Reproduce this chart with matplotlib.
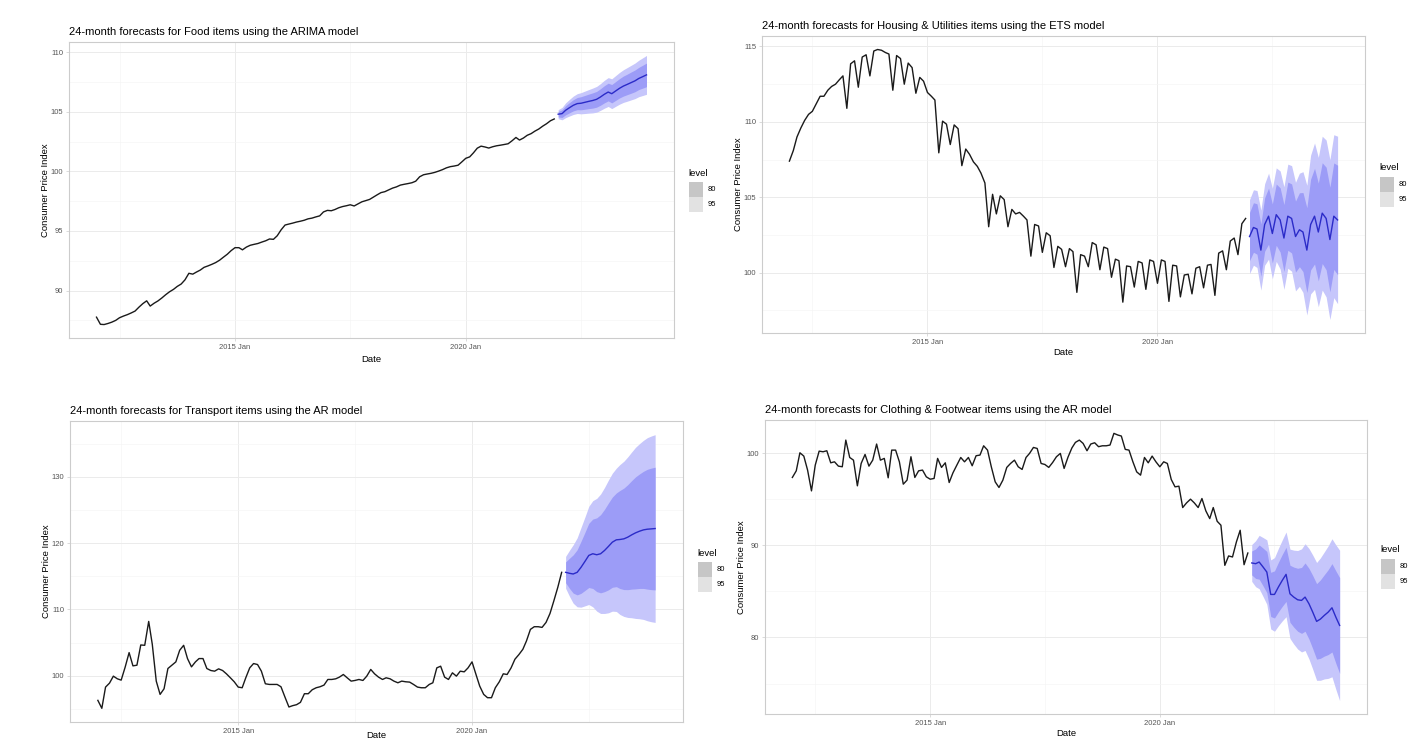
import pandas as pd
import matplotlib
matplotlib.use('Agg')
import matplotlib.pyplot as plt
import matplotlib.dates as mdates
from matplotlib.patches import Rectangle

plt.rcParams['font.family'] = ['Liberation Sans', 'DejaVu Sans']

W, H = 1408, 738

hist_dates = pd.date_range('2012-01-01', periods=120, freq='MS')
fc_dates = pd.date_range('2022-01-01', periods=24, freq='MS')

# --- Food (ARIMA) ---
food_hist = [
    87.77, 87.17, 87.15, 87.24, 87.35, 87.5, 87.72, 87.86, 87.98, 88.12, 88.28, 88.6,
    88.9, 89.14, 88.7, 88.94, 89.13, 89.38, 89.65, 89.9, 90.1, 90.35, 90.55, 90.9,
    91.45, 91.38, 91.55, 91.72, 91.95, 92.07, 92.2, 92.35, 92.55, 92.8, 93.05, 93.35,
    93.6, 93.6, 93.42, 93.65, 93.8, 93.88, 93.95, 94.07, 94.18, 94.33, 94.3, 94.6,
    95.1, 95.5, 95.58, 95.66, 95.75, 95.82, 95.9, 96.02, 96.08, 96.18, 96.27, 96.6,
    96.73, 96.7, 96.8, 96.95, 97.05, 97.12, 97.2, 97.1, 97.28, 97.45, 97.55, 97.65,
    97.85, 98.05, 98.22, 98.3, 98.45, 98.6, 98.7, 98.85, 98.92, 98.98, 99.05, 99.18,
    99.55, 99.72, 99.78, 99.84, 99.92, 100.03, 100.15, 100.3, 100.4, 100.45, 100.52, 100.8,
    101.1, 101.22, 101.55, 101.95, 102.12, 102.05, 101.96, 102.07, 102.15, 102.2, 102.26, 102.32,
    102.57, 102.85, 102.63, 102.8, 103.03, 103.17, 103.38, 103.56, 103.8, 104.0, 104.25, 104.4,
]
food_fc = [
    104.8, 104.85, 105.13, 105.35, 105.55, 105.69, 105.72, 105.8, 105.88, 105.95, 106.05, 106.24,
    106.47, 106.66, 106.52, 106.75, 106.97, 107.16, 107.3, 107.45, 107.6, 107.8, 107.95, 108.1,
]
food_hw80 = [0.23, 0.32, 0.38, 0.43, 0.47, 0.51, 0.55, 0.58, 0.61, 0.64, 0.66, 0.69,
             0.72, 0.74, 0.77, 0.79, 0.81, 0.84, 0.86, 0.89, 0.91, 0.93, 0.96, 0.99]
food_hw95 = [0.38, 0.52, 0.62, 0.7, 0.77, 0.83, 0.89, 0.94, 0.99, 1.04, 1.08, 1.12,
             1.17, 1.21, 1.25, 1.29, 1.33, 1.37, 1.41, 1.45, 1.49, 1.53, 1.58, 1.63]

# --- Housing & Utilities (ETS) ---
housing_hist = [
    107.4, 108.1, 109.0, 109.6, 110.1, 110.5, 110.7, 111.2, 111.7, 111.7, 112.1, 112.35,
    112.5, 112.8, 113.05, 110.9, 113.85, 114.05, 112.3, 114.3, 114.45, 113.05, 114.7, 114.8,
    114.75, 114.6, 114.5, 112.1, 114.4, 114.2, 112.5, 113.9, 113.6, 111.9, 112.95, 112.7,
    111.95, 111.7, 111.45, 107.95, 110.05, 109.85, 108.5, 109.8, 109.55, 107.1, 108.2, 107.85,
    107.35, 107.05, 106.6, 105.95, 103.05, 105.2, 103.9, 105.1, 104.85, 103.05, 104.2, 103.9,
    104.0, 103.75, 103.5, 101.1, 103.2, 103.1, 101.35, 102.65, 102.45, 100.35, 101.75, 101.55,
    100.4, 101.6, 101.4, 98.7, 101.2, 101.1, 100.4, 102.0, 101.85, 100.2, 101.7, 101.6,
    99.7, 100.9, 100.8, 98.05, 100.45, 100.4, 99.05, 100.75, 100.65, 98.9, 100.85, 100.75,
    99.3, 100.85, 100.75, 98.1, 100.5, 100.45, 98.4, 99.85, 99.9, 98.6, 100.3, 100.4,
    99.0, 100.5, 100.55, 98.5, 101.3, 101.45, 100.2, 102.1, 102.3, 101.2, 103.25, 103.6,
]
housing_fc = [
    102.4, 103.0, 102.9, 101.5, 103.2, 103.75, 102.6, 103.85, 103.5, 102.3, 103.75, 103.6,
    102.4, 102.85, 102.7, 101.5, 103.2, 103.75, 102.7, 103.95, 103.6, 102.2, 103.75, 103.5,
]
housing_hw80 = [1.6, 1.64, 1.67, 1.73, 1.77, 1.86, 1.96, 2.03, 2.13, 2.22, 2.26, 2.29,
                2.35, 2.45, 2.62, 2.81, 3.01, 3.17, 3.24, 3.34, 3.4, 3.47, 3.53, 3.63]
housing_hw95 = [2.45, 2.5, 2.55, 2.65, 2.7, 2.85, 3.0, 3.1, 3.25, 3.4, 3.45, 3.5,
                3.6, 3.75, 4.0, 4.3, 4.6, 4.85, 4.95, 5.1, 5.2, 5.3, 5.4, 5.55]

# --- Transport (AR) ---
transport_hist = [
    96.3, 95.1, 98.3, 98.9, 99.95, 99.55, 99.35, 101.3, 103.5, 101.5, 101.6, 104.65,
    104.6, 108.2, 104.75, 99.2, 97.2, 98.05, 101.1, 101.6, 102.1, 103.85, 104.6, 102.6,
    101.35, 102.1, 102.6, 102.6, 101.1, 100.8, 100.7, 101.05, 100.8, 100.3, 99.7, 99.1,
    98.3, 98.2, 99.7, 101.2, 101.85, 101.7, 100.7, 98.8, 98.7, 98.7, 98.7, 98.35,
    96.8, 95.3, 95.5, 95.65, 96.0, 97.3, 97.3, 97.9, 98.2, 98.35, 98.6, 99.45,
    99.45, 99.55, 99.8, 100.2, 99.7, 99.2, 99.3, 99.45, 99.3, 99.95, 100.96, 100.3,
    99.8, 99.45, 99.7, 99.55, 99.2, 98.95, 99.2, 99.1, 99.05, 98.7, 98.3, 98.2,
    98.2, 98.7, 98.95, 101.2, 101.45, 99.8, 99.45, 100.45, 99.95, 100.7, 100.6, 101.2,
    102.1, 100.2, 98.45, 97.2, 96.7, 96.7, 98.2, 99.1, 100.3, 100.2, 101.2, 102.5,
    103.2, 104.0, 105.25, 107.0, 107.4, 107.4, 107.3, 108.05, 109.4, 111.3, 113.35, 115.6,
]
transport_fc = [
    115.6, 115.45, 115.35, 115.6, 116.35, 117.25, 118.15, 118.4, 118.25, 118.4, 118.9, 119.5,
    120.15, 120.5, 120.55, 120.65, 120.9, 121.25, 121.55, 121.8, 122.0, 122.1, 122.15, 122.2,
]
transport_hw80 = [1.57, 2.29, 2.88, 3.4, 3.92, 4.38, 4.84, 5.23, 5.56, 5.89, 6.21, 6.54,
                  6.8, 7.06, 7.39, 7.65, 7.91, 8.18, 8.44, 8.63, 8.83, 9.03, 9.16, 9.25]
transport_hw95 = [2.4, 3.5, 4.4, 5.2, 6.0, 6.7, 7.4, 8.0, 8.5, 9.0, 9.5, 10.0,
                  10.4, 10.8, 11.3, 11.7, 12.1, 12.5, 12.9, 13.2, 13.5, 13.8, 14.0, 14.15]

# --- Clothing & Footwear (AR) ---
clothing_hist = [
    97.39, 98.11, 100.07, 99.71, 98.19, 95.93, 98.73, 100.25, 100.18, 100.29, 98.98, 99.09,
    98.62, 98.55, 101.45, 99.56, 99.27, 96.48, 98.91, 99.89, 98.62, 99.27, 101.02, 99.27,
    99.46, 97.35, 100.36, 100.36, 99.09, 96.66, 97.1, 99.64, 97.39, 98.11, 98.19, 97.46,
    97.2, 97.28, 99.46, 98.48, 98.98, 96.84, 97.89, 98.73, 99.56, 99.09, 99.56, 98.66,
    99.75, 99.82, 100.83, 100.36, 98.55, 96.91, 96.3, 97.1, 98.48, 98.91, 99.27, 98.55,
    98.26, 99.56, 100.0, 100.65, 100.54, 98.91, 98.8, 98.48, 99.02, 99.64, 100.0, 98.37,
    99.6, 100.6, 101.2, 101.45, 101.09, 100.29, 101.02, 101.16, 100.73, 100.83, 100.83, 100.91,
    102.18, 102.0, 101.89, 100.44, 100.36, 99.09, 98.0, 97.64, 99.56, 98.98, 99.71, 99.09,
    98.55, 99.09, 98.91, 97.17, 96.37, 96.44, 94.12, 94.63, 95.03, 94.63, 94.12, 95.1,
    93.76, 92.92, 94.12, 92.63, 92.2, 87.84, 88.86, 88.75, 90.38, 91.65, 87.91, 89.18,
]
clothing_fc = [
    88.1, 88.02, 88.2, 87.66, 87.11, 84.68, 84.68, 85.48, 86.21, 86.86, 84.75, 84.39,
    84.1, 84.03, 84.39, 83.67, 82.76, 81.75, 82.0, 82.4, 82.76, 83.23, 82.21, 81.31,
]
clothing_hw80 = [1.3, 1.6, 1.86, 2.05, 2.24, 2.4, 2.56, 2.69, 2.82, 2.94, 3.1, 3.26,
                 3.42, 3.58, 3.71, 3.84, 3.97, 4.1, 4.26, 4.42, 4.61, 4.8, 5.02, 5.2]
clothing_hw95 = [2.0, 2.5, 2.9, 3.2, 3.5, 3.75, 4.0, 4.2, 4.4, 4.6, 4.85, 5.1,
                 5.35, 5.6, 5.8, 6.0, 6.2, 6.4, 6.65, 6.9, 7.2, 7.5, 7.85, 8.17]

panels = [
    # title, hist, fc, hw80, hw95, major y, minor y, (left, top, right, bottom) px,
    # legend px, x-label pad
    ('24-month forecasts for Food items using the ARIMA model',
     food_hist, food_fc, food_hw80, food_hw95,
     [90, 95, 100, 105, 110], [87.5, 92.5, 97.5, 102.5, 107.5],
     (69, 42, 674, 338), (688, 173), 3),
    ('24-month forecasts for Housing & Utilities items using the ETS model',
     housing_hist, housing_fc, housing_hw80, housing_hw95,
     [100, 105, 110, 115], [97.5, 102.5, 107.5, 112.5],
     (762, 36, 1365, 333), (1379, 168), 2),
    ('24-month forecasts for Transport items using the AR model',
     transport_hist, transport_fc, transport_hw80, transport_hw95,
     [100, 110, 120, 130], [95, 105, 115, 125, 135],
     (70, 421, 683, 722), (697, 553), -2.8),
    ('24-month forecasts for Clothing & Footwear items using the AR model',
     clothing_hist, clothing_fc, clothing_hw80, clothing_hw95,
     [80, 90, 100], [75, 85, 95],
     (765, 420, 1367, 714), (1380, 550), 1.5),
]

BORDER = '#cccccc'
GRID = '#ebebeb'
GRID_MINOR = '#f5f5f5'
TICK_TEXT = '#555555'
BAND95 = '#c6c6fb'
BAND80 = '#9c9cf7'
FC_LINE = '#2b2bc8'

fig = plt.figure(figsize=(W / 100, H / 100), dpi=100)

x_lo = hist_dates[0] - (fc_dates[-1] - hist_dates[0]) * 0.05
x_hi = fc_dates[-1] + (fc_dates[-1] - hist_dates[0]) * 0.05

for title, hist, fc, hw80, hw95, yt, ytm, (l, t, r, b), (lx, ly), xpad in panels:
    ax = fig.add_axes([l / W, 1 - b / H, (r - l) / W, (b - t) / H])
    fc_s = pd.Series(fc)
    lo95 = fc_s - pd.Series(hw95)
    hi95 = fc_s + pd.Series(hw95)
    lo80 = fc_s - pd.Series(hw80)
    hi80 = fc_s + pd.Series(hw80)

    ax.fill_between(fc_dates, lo95, hi95, color=BAND95, lw=0, zorder=2)
    ax.fill_between(fc_dates, lo80, hi80, color=BAND80, lw=0, zorder=3)
    ax.plot(hist_dates, hist, color='#1a1a1a', lw=1.0, zorder=4)
    ax.plot(fc_dates, fc, color=FC_LINE, lw=1.0, zorder=5)

    lo = min(min(hist), lo95.min())
    hi = max(max(hist), hi95.max())
    pad = (hi - lo) * 0.05
    ax.set_ylim(lo - pad, hi + pad)
    ax.set_xlim(x_lo, x_hi)

    ax.set_yticks(yt)
    ax.set_yticks(ytm, minor=True)
    ax.set_xticks([pd.Timestamp('2015-01-01'), pd.Timestamp('2020-01-01')])
    ax.set_xticks([pd.Timestamp('2012-07-01'), pd.Timestamp('2017-07-01'),
                   pd.Timestamp('2022-07-01')], minor=True)
    ax.xaxis.set_major_formatter(mdates.DateFormatter('%Y %b'))

    ax.grid(which='major', color=GRID, lw=0.7, zorder=0)
    ax.grid(which='minor', color=GRID_MINOR, lw=0.5, zorder=0)
    ax.set_axisbelow(True)
    for sp in ax.spines.values():
        sp.set_color(BORDER)
        sp.set_linewidth(0.8)
    ax.tick_params(which='major', length=2, width=0.5, color=BORDER,
                   labelsize=5.5, labelcolor=TICK_TEXT, pad=2)
    ax.tick_params(which='minor', length=0)

    ax.set_title(title, loc='left', fontsize=8, pad=5)
    ax.set_ylabel('Consumer Price Index', fontsize=6.8, labelpad=0.5)
    ax.set_xlabel('Date', fontsize=6.8, labelpad=xpad)

    # legend for the interval levels
    fig.text(lx / W, 1 - ly / H, 'level', fontsize=6.8, va='center', ha='left')
    for i, (lab, col) in enumerate([('80', '#c6c6c6'), ('95', '#e2e2e2')]):
        ky = ly + 9 + i * 15
        fig.patches.append(Rectangle(((lx + 1) / W, 1 - (ky + 15) / H), 14 / W, 15 / H,
                                     transform=fig.transFigure, facecolor=col,
                                     edgecolor='none'))
        fig.text((lx + 20) / W, 1 - (ky + 7.5) / H, lab, fontsize=5.5,
                 va='center', ha='left')

fig.savefig('out.png', dpi=100)
